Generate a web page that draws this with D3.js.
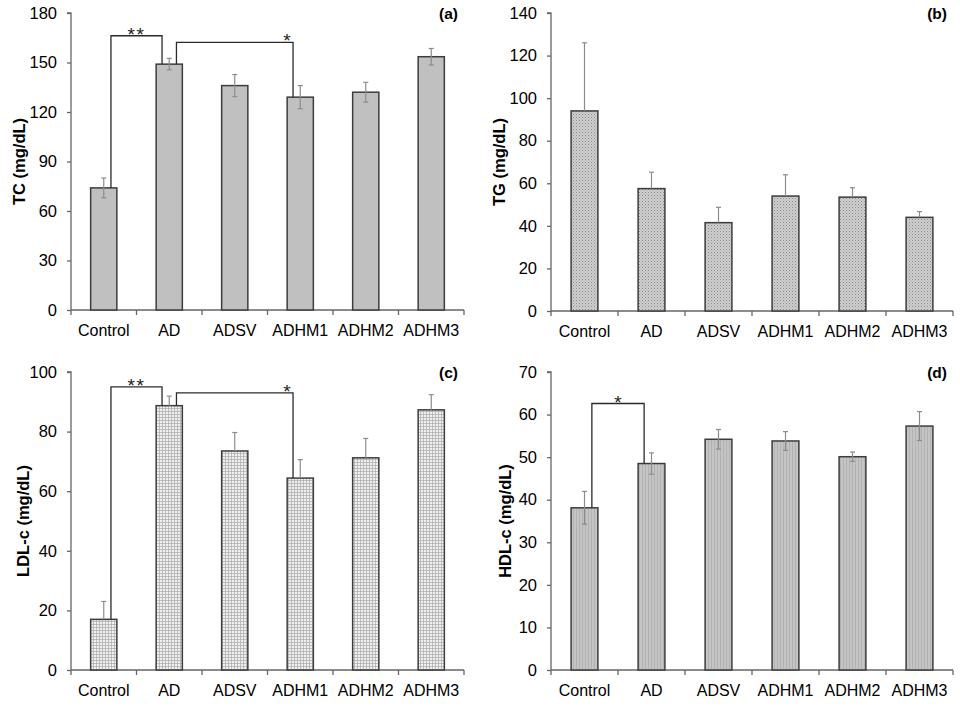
<!DOCTYPE html>
<html>
<head>
<meta charset="utf-8">
<script src="https://cdn.jsdelivr.net/npm/d3@7/dist/d3.min.js"></script>
<style>
  body { margin: 0; background: #fff; }
  svg { display: block; }
  text { font-family: "Liberation Sans", Arial, sans-serif; }
</style>
</head>
<body>
<svg id="chart" width="960" height="720"></svg>
<script>
// ---- data ----
const categories = ["Control", "AD", "ADSV", "ADHM1", "ADHM2", "ADHM3"];

const tcValues   = [74, 149, 136, 129, 132, 153.5];
const tcErrors   = [6, 3.5, 6.7, 7, 6, 5];
const tcTicks    = [0, 30, 60, 90, 120, 150, 180];

const tgValues   = [94, 57.5, 41.5, 54, 53.5, 44];
const tgErrors   = [32, 7.7, 7.2, 10, 4.4, 2.7];
const tgTicks    = [0, 20, 40, 60, 80, 100, 120, 140];

const ldlValues  = [17, 88.7, 73.5, 64.4, 71.2, 87.3];
const ldlErrors  = [6, 3.2, 6.2, 6.2, 6.5, 5.1];
const ldlTicks   = [0, 20, 40, 60, 80, 100];

const hdlValues  = [38.1, 48.5, 54.2, 53.8, 50.1, 57.3];
const hdlErrors  = [3.85, 2.5, 2.3, 2.2, 1.1, 3.4];
const hdlTicks   = [0, 10, 20, 30, 40, 50, 60, 70];

// significance brackets: [from index, to index, bracket level (value), label]
const tcBrackets  = [[0, 1, 166.2, "**"], [1, 3, 162.2, "*"]];
const tgBrackets  = [];
const ldlBrackets = [[0, 1, 95, "**"], [1, 3, 93, "*"]];
const hdlBrackets = [[0, 1, 62.6, "*"]];

// ---- drawing ----
const svg = d3.select("#chart");
const defs = svg.append("defs");

// patterns
const pDots = defs.append("pattern").attr("id", "dots").attr("patternUnits", "userSpaceOnUse")
  .attr("width", 3).attr("height", 3);
pDots.append("rect").attr("width", 3).attr("height", 3).attr("fill", "#cfcfcf");
pDots.append("rect").attr("x", 0).attr("y", 0).attr("width", 1).attr("height", 1).attr("fill", "#8a8a8a");
pDots.append("rect").attr("x", 1.5).attr("y", 1.5).attr("width", 1).attr("height", 1).attr("fill", "#a4a4a4");

const pGrid = defs.append("pattern").attr("id", "grid").attr("patternUnits", "userSpaceOnUse")
  .attr("width", 3).attr("height", 3);
pGrid.append("rect").attr("width", 3).attr("height", 3).attr("fill", "#f0f0f0");
pGrid.append("rect").attr("x", 0).attr("y", 0).attr("width", 3).attr("height", 0.8).attr("fill", "#b0b0b0");
pGrid.append("rect").attr("x", 0).attr("y", 0).attr("width", 0.8).attr("height", 3).attr("fill", "#b0b0b0");

const pStripe = defs.append("pattern").attr("id", "stripe").attr("patternUnits", "userSpaceOnUse")
  .attr("width", 3).attr("height", 3);
pStripe.append("rect").attr("width", 3).attr("height", 3).attr("fill", "#c4c4c4");
pStripe.append("rect").attr("x", 0).attr("y", 0).attr("width", 1).attr("height", 3).attr("fill", "#b2b2b2");

const panels = [
  { values: tcValues,  errors: tcErrors,  ticks: tcTicks,  brackets: tcBrackets,
    label: "TC (mg/dL)",    tag: "(a)", fill: "#c0c0c0", both: true,
    x0: 71, x1: 464, yTop: 13, yBot: 310, labelX: 19 },
  { values: tgValues,  errors: tgErrors,  ticks: tgTicks,  brackets: tgBrackets,
    label: "TG (mg/dL)",    tag: "(b)", fill: "url(#dots)", both: false,
    x0: 551, x1: 953, yTop: 13, yBot: 311, labelX: 499 },
  { values: ldlValues, errors: ldlErrors, ticks: ldlTicks, brackets: ldlBrackets,
    label: "LDL-c (mg/dL)", tag: "(c)", fill: "url(#grid)", both: false,
    x0: 71, x1: 464, yTop: 372, yBot: 670, labelX: 23 },
  { values: hdlValues, errors: hdlErrors, ticks: hdlTicks, brackets: hdlBrackets,
    label: "HDL-c (mg/dL)", tag: "(d)", fill: "url(#stripe)", both: true,
    x0: 551, x1: 953, yTop: 372, yBot: 670, labelX: 505 }
];

panels.forEach(p => {
  const g = svg.append("g");
  const x = d3.scaleBand().domain(categories).range([p.x0, p.x1]).paddingInner(0).paddingOuter(0);
  const yMax = p.ticks[p.ticks.length - 1];
  const y = d3.scaleLinear().domain([0, yMax]).range([p.yBot, p.yTop]);
  const bw = x.bandwidth() * 0.4;
  const cx = c => x(c) + x.bandwidth() / 2;

  // y axis
  const yAxis = d3.axisLeft(y).tickValues(p.ticks).tickSize(4).tickPadding(10).tickFormat(d3.format("d"));
  const ya = g.append("g").attr("transform", `translate(${p.x0},0)`).call(yAxis)
    .attr("font-family", null).attr("font-size", null);
  ya.select(".domain").attr("stroke", "#666").attr("stroke-width", 1.3).attr("d", `M-4,${p.yTop}H0V${p.yBot}`);
  ya.selectAll(".tick line").attr("stroke", "#666").attr("stroke-width", 1.3);
  ya.selectAll(".tick text").style("font-size", "16.5px").attr("fill", "#000");

  // x axis with ticks at band boundaries
  const xa = g.append("g").attr("transform", `translate(0,${p.yBot})`);
  xa.append("line").attr("x1", p.x0).attr("x2", p.x1).attr("stroke", "#666").attr("stroke-width", 1.3);
  const bounds = categories.map(c => x(c)).concat([p.x1]);
  xa.selectAll("line.tk").data(bounds).join("line").attr("class", "tk")
    .attr("x1", d => d).attr("x2", d => d).attr("y1", 0).attr("y2", 5)
    .attr("stroke", "#666").attr("stroke-width", 1.3);
  xa.selectAll("text").data(categories).join("text")
    .attr("x", d => cx(d)).attr("y", 26).attr("text-anchor", "middle")
    .style("font-size", "16px").attr("fill", "#000").text(d => d);

  // bars
  g.append("g").selectAll("rect").data(categories).join("rect")
    .attr("x", d => cx(d) - bw / 2).attr("width", bw)
    .attr("y", (d, i) => y(p.values[i]))
    .attr("height", (d, i) => p.yBot - y(p.values[i]))
    .attr("fill", p.fill).attr("stroke", "#3c3c3c").attr("stroke-width", 1.5);

  // error bars (one-sided for patterned panels)
  const eg = g.append("g").selectAll("g.err").data(categories).join("g").attr("class", "err");
  eg.append("line")
    .attr("x1", d => cx(d)).attr("x2", d => cx(d))
    .attr("y1", (d, i) => y(p.both ? p.values[i] - p.errors[i] : p.values[i]))
    .attr("y2", (d, i) => y(p.values[i] + p.errors[i]))
    .attr("stroke", "#8c8c8c").attr("stroke-width", 1.2);
  eg.append("line")
    .attr("x1", d => cx(d) - 2.5).attr("x2", d => cx(d) + 2.5)
    .attr("y1", (d, i) => y(p.values[i] + p.errors[i]))
    .attr("y2", (d, i) => y(p.values[i] + p.errors[i]))
    .attr("stroke", "#8c8c8c").attr("stroke-width", 1.2);
  if (p.both) {
    eg.append("line")
      .attr("x1", d => cx(d) - 2.5).attr("x2", d => cx(d) + 2.5)
      .attr("y1", (d, i) => y(p.values[i] - p.errors[i]))
      .attr("y2", (d, i) => y(p.values[i] - p.errors[i]))
      .attr("stroke", "#8c8c8c").attr("stroke-width", 1.2);
  }

  // significance brackets
  const off = x.bandwidth() * 0.11;
  p.brackets.forEach(b => {
    const [i0, i1, lvl, lab] = b;
    const xl = cx(categories[i0]) + off;
    const xr = cx(categories[i1]) - off;
    const yl = y(lvl);
    g.append("path")
      .attr("d", `M${xl},${y(p.values[i0])}V${yl}H${xr}V${y(p.values[i1])}`)
      .attr("fill", "none").attr("stroke", "#2a2a2a").attr("stroke-width", 1.3);
    const lx = (i1 - i0) > 1 ? xr - 6 : (xl + xr) / 2;
    g.append("text").attr("x", lx).attr("y", yl + 5).attr("text-anchor", "middle")
      .style("font-size", "19px").attr("letter-spacing", lab.length > 1 ? 1.5 : 0)
      .attr("fill", "#222").text(lab);
  });

  // y label
  const ymid = (p.yTop + p.yBot) / 2;
  g.append("text")
    .attr("transform", `translate(${p.labelX + 6},${ymid}) rotate(-90)`)
    .attr("text-anchor", "middle").style("font-size", "16.5px").attr("font-weight", "bold")
    .attr("fill", "#000").text(p.label);

  // panel tag
  g.append("text").attr("x", p.x1 - 6).attr("y", p.yTop + 6).attr("text-anchor", "end")
    .style("font-size", "15.5px").attr("font-weight", "bold").attr("fill", "#000").text(p.tag);
});
</script>
</body>
</html>
